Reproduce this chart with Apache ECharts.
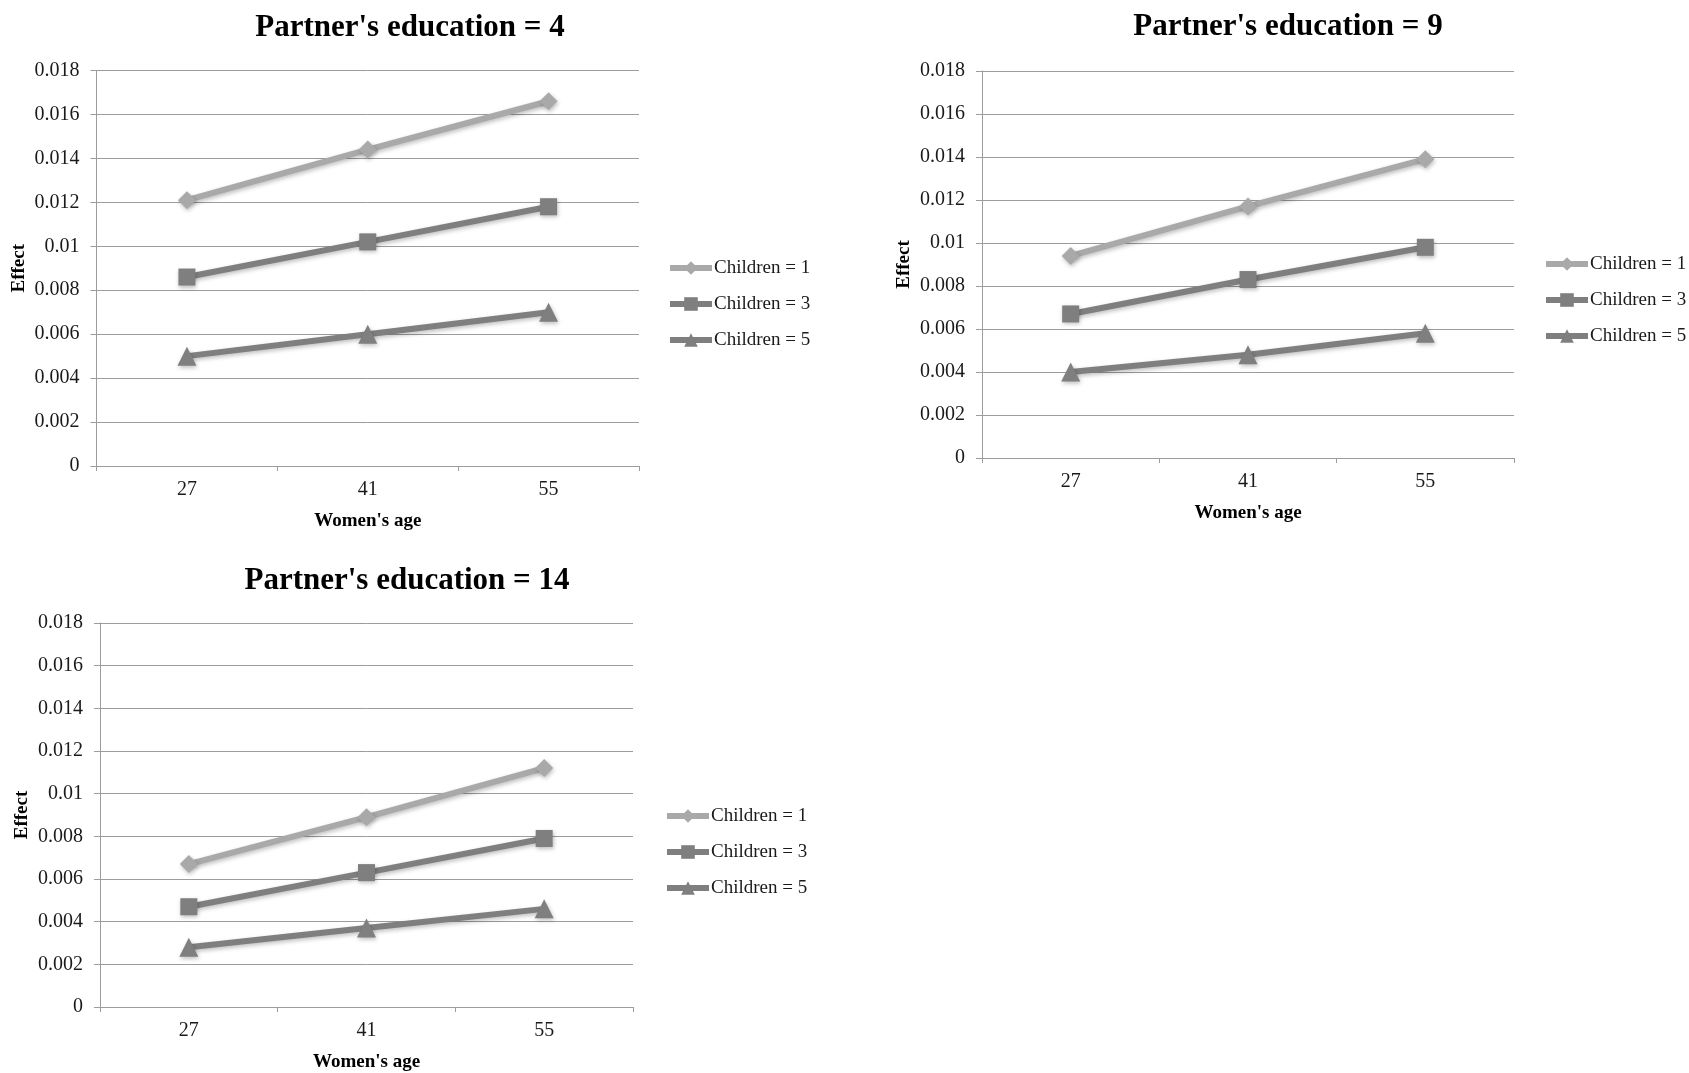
<!DOCTYPE html>
<html>
<head>
<meta charset="utf-8">
<style>
  html, body { margin: 0; padding: 0; background: #fff; }
  #chart { width: 1689px; height: 1073px; }
</style>
<script src="https://cdn.jsdelivr.net/npm/echarts@6/dist/echarts.min.js"></script>
</head>
<body>
<div id="chart"></div>
<script>
// Women's age categories (x axis)
const ages = ['27', '41', '55'];
const yTicks = { min: 0, max: 0.018, step: 0.002 };

// Effect by number of children, one panel per partner's education level
const edu4Children1 = [0.0121, 0.0144, 0.0166];
const edu4Children3 = [0.0086, 0.0102, 0.0118];
const edu4Children5 = [0.0050, 0.0060, 0.0070];

const edu9Children1 = [0.0094, 0.0117, 0.0139];
const edu9Children3 = [0.0067, 0.0083, 0.0098];
const edu9Children5 = [0.0040, 0.0048, 0.0058];

const edu14Children1 = [0.0067, 0.0089, 0.0112];
const edu14Children3 = [0.0047, 0.0063, 0.0079];
const edu14Children5 = [0.0028, 0.0037, 0.0046];

const panelTitles = ["Partner's education = 4", "Partner's education = 9", "Partner's education = 14"];
const seriesNames = ['Children = 1', 'Children = 3', 'Children = 5'];

const panels = [
  { title: panelTitles[0], data: [edu4Children1, edu4Children3, edu4Children5],
    grid: { left: 96.5, top: 70.5, width: 542.5, height: 395.5 },
    titlePos: { x: 410, y: 12 }, legendPos: { x: 667, y: 258 } },
  { title: panelTitles[1], data: [edu9Children1, edu9Children3, edu9Children5],
    grid: { left: 982, top: 71, width: 532, height: 387 },
    titlePos: { x: 1288, y: 11 }, legendPos: { x: 1543, y: 254 } },
  { title: panelTitles[2], data: [edu14Children1, edu14Children3, edu14Children5],
    grid: { left: 100, top: 623, width: 533, height: 392.5 },
    titlePos: { x: 407, y: 565 }, legendPos: { x: 664, y: 806 } }
];

const FONT = '"Liberation Serif", "Times New Roman", serif';
const GRID_GRAY = '#9c9c9c';
const seriesStyle = [
  { color: '#a9a9a9', symbol: 'diamond', size: 18 },
  { color: '#7f7f7f', symbol: 'rect', size: 17 },
  { color: '#7f7f7f', symbol: 'triangle', size: 19 }
];

const option = {
  backgroundColor: '#ffffff',
  animation: false,
  title: [],
  legend: [],
  grid: [],
  xAxis: [],
  yAxis: [],
  series: []
};

panels.forEach((p, i) => {
  option.title.push({
    text: p.title,
    left: p.titlePos.x,
    top: p.titlePos.y,
    textAlign: 'center',
    padding: 0,
    textStyle: { fontFamily: FONT, fontWeight: 'bold', fontSize: 31, color: '#000' }
  });

  option.grid.push(Object.assign({ containLabel: false }, p.grid));

  option.xAxis.push({
    type: 'category',
    gridIndex: i,
    data: ages,
    boundaryGap: true,
    name: "Women's age",
    nameLocation: 'middle',
    nameGap: 46,
    nameTextStyle: { fontFamily: FONT, fontWeight: 'bold', fontSize: 19, color: '#000' },
    axisLine: { lineStyle: { color: GRID_GRAY, width: 1 } },
    axisTick: { show: true, length: 5, lineStyle: { color: GRID_GRAY } },
    axisLabel: { fontFamily: FONT, fontSize: 20, color: '#1a1a1a', margin: 14 },
    splitLine: { show: false }
  });

  option.yAxis.push({
    type: 'value',
    gridIndex: i,
    min: yTicks.min,
    max: yTicks.max,
    interval: yTicks.step,
    name: 'Effect',
    nameLocation: 'middle',
    nameGap: 68,
    nameTextStyle: { fontFamily: FONT, fontWeight: 'bold', fontSize: 19, color: '#000' },
    axisLine: { show: true, lineStyle: { color: GRID_GRAY, width: 1 } },
    axisTick: { show: true, length: 6, lineStyle: { color: GRID_GRAY } },
    axisLabel: { fontFamily: FONT, fontSize: 20, color: '#1a1a1a', margin: 17 },
    splitLine: { show: true, lineStyle: { color: GRID_GRAY, width: 1 } }
  });

  option.legend.push({
    orient: 'vertical',
    left: p.legendPos.x,
    top: p.legendPos.y,
    padding: 0,
    itemWidth: 42,
    itemHeight: 17,
    itemGap: 16,
    data: seriesNames,
    lineStyle: { width: 6 },
    textStyle: { fontFamily: FONT, fontSize: 19, color: '#1a1a1a', lineHeight: 20, padding: [0, 0, 0, -3] }
  });

  p.data.forEach((values, k) => {
    const st = seriesStyle[k];
    option.series.push({
      type: 'line',
      name: seriesNames[k],
      xAxisIndex: i,
      yAxisIndex: i,
      data: values,
      symbol: st.symbol,
      symbolSize: st.size,
      showAllSymbol: true,
      lineStyle: {
        color: st.color, width: 6,
        shadowColor: 'rgba(0,0,0,0.25)', shadowBlur: 4, shadowOffsetX: 1, shadowOffsetY: 2
      },
      itemStyle: {
        color: st.color,
        shadowColor: 'rgba(0,0,0,0.25)', shadowBlur: 4, shadowOffsetX: 1, shadowOffsetY: 2
      },
      emphasis: { disabled: true },
      z: 3 - k
    });
  });
});

const chart = echarts.init(document.getElementById('chart'), null, { renderer: 'canvas' });
chart.setOption(option);
</script>
</body>
</html>
